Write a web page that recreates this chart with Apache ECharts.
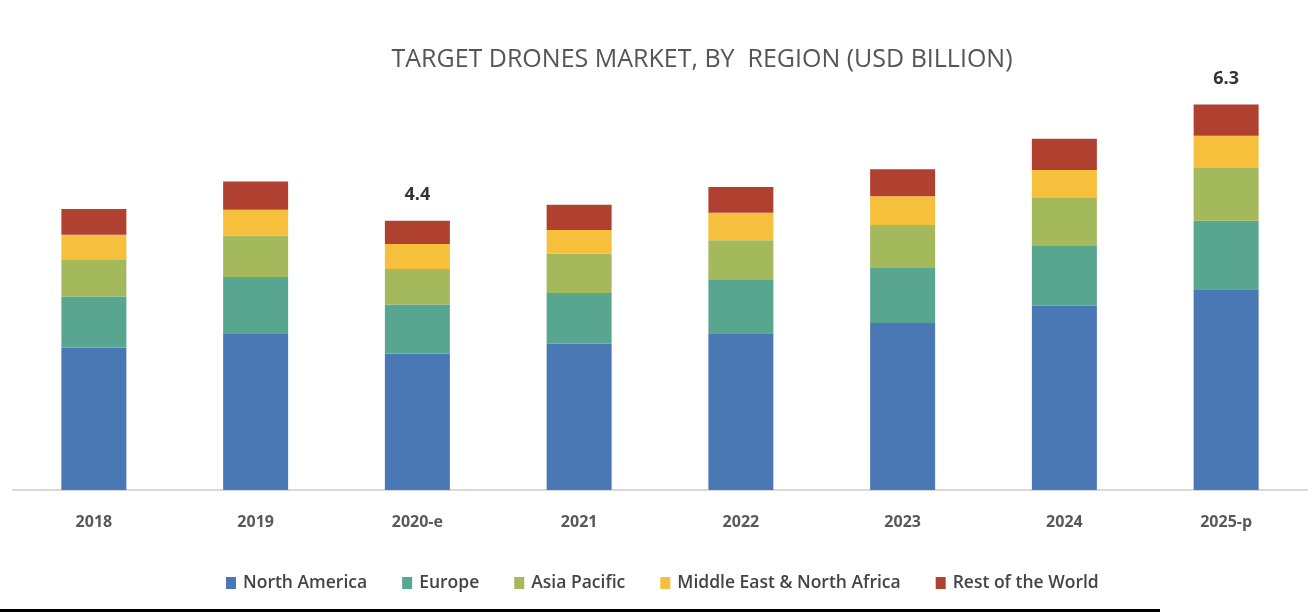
<!DOCTYPE html>
<html>
<head>
<meta charset="utf-8">
<script src="https://cdn.jsdelivr.net/npm/echarts@6/dist/echarts.min.js"></script>
<style>html,body{margin:0;padding:0;background:#fff;}#c{width:1316px;height:612px;}</style>
</head>
<body>
<div id="c"></div>
<script>
const categories = ['2018', '2019', '2020-e', '2021', '2022', '2023', '2024', '2025-p'];
const northAmerica = [2.33, 2.56, 2.23, 2.39, 2.56, 2.73, 3.01, 3.28];
const europe       = [0.83, 0.92, 0.80, 0.83, 0.87, 0.91, 0.99, 1.12];
const asiaPacific  = [0.61, 0.68, 0.58, 0.64, 0.65, 0.69, 0.77, 0.86];
const middleEast   = [0.40, 0.42, 0.41, 0.39, 0.45, 0.47, 0.46, 0.53];
const restOfWorld  = [0.42, 0.46, 0.38, 0.41, 0.42, 0.44, 0.51, 0.51];
const totalLabels  = ['', '', '4.4', '', '', '', '', '6.3'];
const seriesNames = ['North America', 'Europe', 'Asia Pacific', 'Middle East & North Africa', 'Rest of the World'];
const colors = ['#4a78b4', '#58a590', '#a4b85c', '#f6c03c', '#b0402f'];

const font = 'Open Sans';
const values = [northAmerica, europe, asiaPacific, middleEast, restOfWorld];
const series = values.map((v, i) => ({
  name: seriesNames[i],
  type: 'bar',
  stack: 'total',
  barWidth: 65,
  itemStyle: { color: colors[i] },
  emphasis: { disabled: true },
  data: v.map((val, j) => {
    if (i === values.length - 1 && totalLabels[j]) {
      return {
        value: val,
        label: {
          show: true, position: 'top', distance: 17,
          formatter: totalLabels[j],
          fontFamily: font, fontSize: 18, fontWeight: 'bold', color: '#333'
        }
      };
    }
    return val;
  })
}));

const chart = echarts.init(document.getElementById('c'));
chart.setOption({
  animation: false,
  backgroundColor: '#fff',
  color: colors,
  title: {
    text: 'TARGET DRONES MARKET, BY  REGION (USD BILLION)',
    left: 697, top: 42, textAlign: 'center',
    textStyle: { fontFamily: font, fontSize: 25, fontWeight: 'normal', color: '#555' }
  },
  legend: {
    data: seriesNames,
    left: 226, top: 574, padding: 0,
    itemWidth: 10, itemHeight: 12, itemGap: 35,
    icon: 'rect',
    textStyle: { fontFamily: font, fontSize: 17.5, fontWeight: 600, color: '#444', padding: [0, 0, 0, 2] }
  },
  grid: { left: 13, right: 9, top: 61.6, bottom: 122 },
  xAxis: {
    type: 'category', data: categories,
    axisLine: { lineStyle: { color: '#d9d9d9', width: 2 } },
    axisTick: { show: false },
    axisLabel: { fontFamily: font, fontSize: 16, fontWeight: 'bold', color: '#595959', margin: 24 }
  },
  yAxis: { type: 'value', min: 0, max: 7, show: false, splitLine: { show: false } },
  graphic: [{
    type: 'rect', shape: { x: 0, y: 609, width: 1160, height: 3 },
    style: { fill: '#000' }, silent: true
  }],
  series: series
});
</script>
</body>
</html>
